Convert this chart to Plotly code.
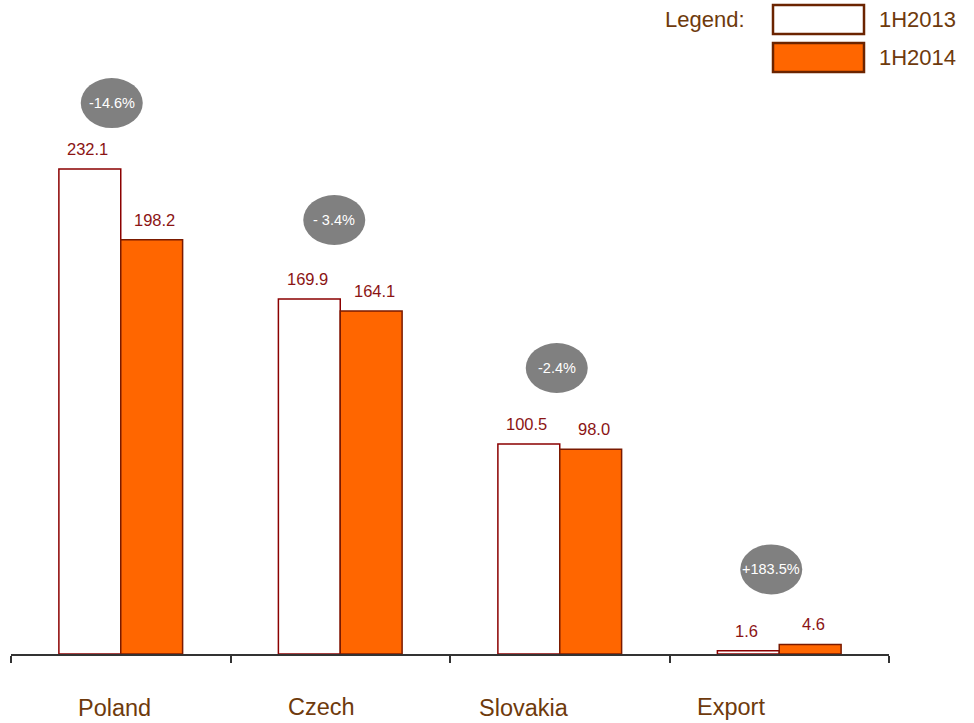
import plotly.graph_objects as go

categories = ["Poland", "Czech", "Slovakia", "Export"]
values_2013 = [232.1, 169.9, 100.5, 1.6]
values_2014 = [198.2, 164.1, 98.0, 4.6]
changes = ["-14.6%", "- 3.4%", "-2.4%", "+183.5%"]
series_names = ["1H2013", "1H2014"]

# styling (pixel offsets)
bubble_dx = [-9, -6, -3, -8]
bubble_dy = [66, 79, 76, 75]
label_dx = [-6, -19, -36, -48]
label_dy = [-54, -53, -54, -53]

FONT = "Liberation Sans, Arial, sans-serif"
BROWN = "#6E3A0C"
DARKRED = "#8B1414"
ORANGE = "#FF6600"
GRAY = "#808080"
BW = 0.2818

x = list(range(len(categories)))

fig = go.Figure()
fig.add_trace(go.Bar(x=x, y=values_2013, width=BW, offset=-BW, name=series_names[0],
                     marker=dict(color="white", line=dict(color="#8B0000", width=1.5))))
fig.add_trace(go.Bar(x=x, y=values_2014, width=BW, offset=0, name=series_names[1],
                     marker=dict(color=ORANGE, line=dict(color="#7A1A00", width=1.5))))

annotations = []
shapes = []
for i, c in enumerate(categories):
    # value labels
    annotations.append(dict(x=i - BW / 2, y=values_2013[i], xref="x", yref="y", text=f"{values_2013[i]:.1f}",
                            showarrow=False, yanchor="bottom", xanchor="center", yshift=9, xshift=-2,
                            font=dict(family=FONT, size=16.5, color=DARKRED)))
    annotations.append(dict(x=i + BW / 2, y=values_2014[i], xref="x", yref="y", text=f"{values_2014[i]:.1f}",
                            showarrow=False, yanchor="bottom", xanchor="center", yshift=9, xshift=3,
                            font=dict(family=FONT, size=16.5, color=DARKRED)))
    top = max(values_2013[i], values_2014[i])
    dx, dy = bubble_dx[i], bubble_dy[i]
    shapes.append(dict(type="circle", xref="x", yref="y", xsizemode="pixel", ysizemode="pixel",
                       xanchor=i, yanchor=top, x0=dx - 31, x1=dx + 31, y0=dy - 25, y1=dy + 25,
                       fillcolor=GRAY, line=dict(width=0), layer="above"))
    annotations.append(dict(x=i, y=top, xref="x", yref="y", text=changes[i], showarrow=False,
                            xanchor="center", yanchor="middle",
                            xshift=dx, yshift=dy, font=dict(family=FONT, size=14.5, color="white")))
    # category labels
    annotations.append(dict(x=i, y=0, xref="x", yref="paper", text=c, showarrow=False,
                            xanchor="center", yanchor="middle",
                            xshift=label_dx[i], yshift=label_dy[i],
                            font=dict(family=FONT, size=23.5, color=BROWN)))

# legend (custom)
W, H = 974, 723
L, R, T, B = 11, 85, 0, 69
pw, ph = W - L - R, H - T - B
def px(v):
    return (v - L) / pw
def py(v):
    return (H - B - v) / ph

annotations.append(dict(x=px(705), y=py(20), xref="paper", yref="paper", text="Legend:", showarrow=False,
                        xanchor="center", yanchor="middle",
                        font=dict(family=FONT, size=22, color=BROWN)))
for k, (fill, y0, y1) in enumerate([("white", 5, 34), (ORANGE, 43, 72)]):
    shapes.append(dict(type="rect", xref="paper", yref="paper", x0=px(773), x1=px(864), y0=py(y1), y1=py(y0),
                       fillcolor=fill, line=dict(color="#6B2400", width=2.5)))
    annotations.append(dict(x=px(877), y=py((y0 + y1) / 2), xref="paper", yref="paper", xanchor="left",
                            yanchor="middle", text=series_names[k], showarrow=False,
                            font=dict(family=FONT, size=22, color=BROWN)))

fig.update_layout(
    width=W, height=H, margin=dict(l=L, r=R, t=T, b=B, pad=0),
    plot_bgcolor="white", paper_bgcolor="white", showlegend=False,
    xaxis=dict(range=[-0.5, 3.5], showgrid=False, zeroline=False, showline=True, linecolor="#333333",
               linewidth=1.5, ticks="outside", ticklen=7, tickwidth=1.5, tickcolor="#333333",
               tickvals=[-0.5, 0.5, 1.5, 2.5, 3.5], showticklabels=False),
    yaxis=dict(range=[0, 313], visible=False),
    annotations=annotations, shapes=shapes,
)
fig.write_html("out.html")
